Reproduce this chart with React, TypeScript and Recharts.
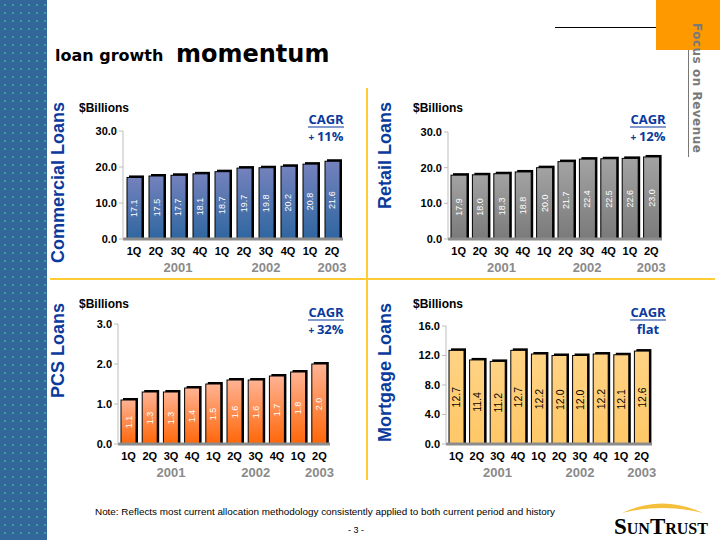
import React from 'react';
import { BarChart, Bar, XAxis, YAxis, LabelList } from 'recharts';

const quarters = ['1Q', '2Q', '3Q', '4Q', '1Q', '2Q', '3Q', '4Q', '1Q', '2Q'];
const yearLabels = ['', '', '2001', '', '', '', '2002', '', '', '2003'];

const commercial = [17.1, 17.5, 17.7, 18.1, 18.7, 19.7, 19.8, 20.2, 20.8, 21.6];
const retail = [17.9, 18.0, 18.3, 18.8, 20.0, 21.7, 22.4, 22.5, 22.6, 23.0];
const pcs = [1.1, 1.3, 1.3, 1.4, 1.5, 1.6, 1.6, 1.7, 1.8, 2.0];
const mortgage = [12.7, 11.4, 11.2, 12.7, 12.2, 12.0, 12.0, 12.2, 12.1, 12.6];

const commercialTicks = [0, 10, 20, 30];
const retailTicks = [0, 10, 20, 30];
const pcsTicks = [0, 1, 2, 3];
const mortgageTicks = [0, 4, 8, 12, 16];

const buildRows = (values: number[]) =>
  quarters.map((q, i) => ({ q, year: yearLabels[i], v: values[i] }));

const BLUE = '#0a3a9c';

const QuarterTick = (props: any) => {
  const { x, y, payload } = props;
  const idx = props.index ?? payload?.index ?? 0;
  const yr = yearLabels[idx];
  return (
    <g>
      <text x={x} y={y + 16} textAnchor="middle" fill="#000" fontSize={11} fontWeight={700} fontFamily="Arial, 'Liberation Sans'">
        {payload.value}
      </text>
      {yr ? (
        <text x={x} y={y + 33} textAnchor="middle" fill="#8a8a8a" fontSize={13} fontWeight={700} fontFamily="Arial, 'Liberation Sans'">
          {yr}
        </text>
      ) : null}
    </g>
  );
};

type ChartProps = {
  id: string;
  values: number[];
  ticks: number[];
  left: number;
  top: number;
  plotW: number;
  plotH: number;
  barSize: number;
  c1: string;
  c2: string;
  labelColor: string;
  labelSize: number;
};

function LoanChart(p: ChartProps) {
  const yw = 45, mt = 8, mr = 4, xh = 40;
  const rows = buildRows(p.values);
  const gid = `grad-${p.id}`;
  const Shape = (s: any) => {
    const { x, y, width, height } = s;
    if (!height || height <= 0) return null;
    return (
      <g>
        <defs>
          <linearGradient id={gid} x1="0" y1="0" x2="0" y2="1">
            <stop offset="0%" stopColor={p.c1} />
            <stop offset="100%" stopColor={p.c2} />
          </linearGradient>
        </defs>
        <rect x={x + 2} y={y - 2} width={width} height={height + 2} fill="#000" />
        <rect x={x} y={y} width={width} height={height} fill={`url(#${gid})`} stroke="#000" strokeWidth={1} />
      </g>
    );
  };
  const Label = (l: any) => {
    const vb = l.viewBox || {};
    const x = l.x ?? vb.x;
    const y = l.y ?? vb.y;
    const w = l.width ?? vb.width;
    const h = l.height ?? vb.height;
    const cx = x + w / 2;
    const cy = y + h / 2;
    return (
      <text
        x={cx}
        y={cy}
        transform={`rotate(-90 ${cx} ${cy})`}
        textAnchor="middle"
        dominantBaseline="central"
        fill={p.labelColor}
        fontSize={p.labelSize}
        fontFamily="Arial, 'Liberation Sans'"
      >
        {Number(l.value).toFixed(1)}
      </text>
    );
  };
  return (
    <div style={{ position: 'absolute', left: p.left - yw, top: p.top - mt }}>
      <BarChart
        width={yw + p.plotW + mr}
        height={mt + p.plotH + xh}
        data={rows}
        margin={{ top: mt, right: mr, bottom: 0, left: 0 }}
      >
        <XAxis
          dataKey="q"
          height={xh}
          interval={0}
          tickLine={false}
          tickSize={0}
          tickMargin={0}
          axisLine={{ stroke: '#8c8c8c', strokeWidth: 3 }}
          tick={<QuarterTick />}
        />
        <YAxis
          width={yw}
          domain={[p.ticks[0], p.ticks[p.ticks.length - 1]]}
          ticks={p.ticks}
          interval={0}
          allowDataOverflow
          tickFormatter={(v: number) => v.toFixed(1)}
          axisLine={{ stroke: '#bdbdbd' }}
          tickLine={{ stroke: '#bdbdbd' }}
          tickSize={4}
          tickMargin={2}
          tick={{ fill: '#000', fontSize: 11, fontWeight: 700, fontFamily: "Arial, 'Liberation Sans'" }}
        />
        <Bar dataKey="v" barSize={p.barSize} isAnimationActive={false} shape={Shape}>
          <LabelList dataKey="v" content={Label} />
        </Bar>
      </BarChart>
    </div>
  );
}

const Cagr = ({ x, y, top, bottom }: { x: number; y: number; top: string; bottom: React.ReactNode }) => (
  <g fontFamily="'Open Sans', 'DejaVu Sans', sans-serif" fontWeight={700} fill={BLUE}>
    <text x={x} y={y} textAnchor="middle" fontSize={13}>{top}</text>
    <line x1={x - 18} x2={x + 18} y1={y + 3} y2={y + 3} stroke={BLUE} strokeWidth={1.2} />
    <text x={x} y={y + 17} textAnchor="middle" fontSize={13}>{bottom}</text>
  </g>
);

const SectionTitle = ({ x, y, text }: { x: number; y: number; text: string }) => (
  <text
    x={x}
    y={y}
    transform={`rotate(-90 ${x} ${y})`}
    textAnchor="end"
    dominantBaseline="central"
    fill={BLUE}
    fontSize={18}
    fontWeight={700}
    fontFamily="Arial, 'Liberation Sans'"
  >
    {text}
  </text>
);

export default function App() {
  return (
    <div style={{ position: 'absolute', left: 0, top: 0, width: 720, height: 540, background: '#fff', overflow: 'hidden' }}>
      <div
        style={{
          position: 'absolute', left: 0, top: 0, width: 47, height: 540,
          backgroundColor: '#336699',
          backgroundImage: 'radial-gradient(#2fa596 0.8px, transparent 1px)',
          backgroundSize: '8px 8px',
          backgroundPosition: '1px 1px',
        }}
      />
      <div style={{ position: 'absolute', left: 656, top: 0, width: 64, height: 50, background: '#ff9900' }} />
      <svg width={720} height={540} style={{ position: 'absolute', left: 0, top: 0 }}>
        <line x1={555} x2={656} y1={27.5} y2={27.5} stroke="#000" strokeWidth={1} />
        <line x1={688.5} x2={688.5} y1={50} y2={157} stroke="#777" strokeWidth={1} />
        <text
          x={697}
          y={23}
          transform="rotate(90 697 23)"
          dominantBaseline="central"
          fill="#7a7a7a"
          fontSize={12}
          fontWeight={700}
          letterSpacing={0.5}
          fontFamily="'DejaVu Sans', sans-serif"
        >
          Focus on Revenue
        </text>
        <text x={55} y={61} fontSize={16} fontWeight={700} fontFamily="'DejaVu Sans', sans-serif" fill="#000">loan growth</text>
        <text x={176} y={62} fontSize={24} fontWeight={700} fontFamily="'DejaVu Sans', sans-serif" fill="#000">momentum</text>

        <rect x={50} y={278} width={665} height={2} fill="#ffcc33" />
        <rect x={366} y={88} width={2} height={392} fill="#ffcc33" />

        <SectionTitle x={58} y={102} text="Commercial Loans" />
        <SectionTitle x={385} y={102} text="Retail Loans" />
        <SectionTitle x={58} y={303} text="PCS Loans" />
        <SectionTitle x={385} y={303} text="Mortgage Loans" />

        <g fontSize={12} fontWeight={700} fontFamily="Arial, 'Liberation Sans'" fill="#000">
          <text x={79} y={112}>$Billions</text>
          <text x={413} y={112}>$Billions</text>
          <text x={79} y={308}>$Billions</text>
          <text x={413} y={308}>$Billions</text>
        </g>

        <Cagr x={326} y={124} top="CAGR" bottom={<><tspan fontSize={10}>+ </tspan>11%</>} />
        <Cagr x={648} y={124} top="CAGR" bottom={<><tspan fontSize={10}>+ </tspan>12%</>} />
        <Cagr x={326} y={317} top="CAGR" bottom={<><tspan fontSize={10}>+ </tspan>32%</>} />
        <Cagr x={648} y={317} top="CAGR" bottom="flat" />

        <text x={95} y={515} fontSize={9.9} fontFamily="Arial, 'Liberation Sans'" fill="#000">
          Note:  Reflects most current allocation methodology consistently applied to both current period and history
        </text>
        <text x={356} y={533} textAnchor="middle" fontSize={9} fontFamily="Arial, 'Liberation Sans'" fill="#000">- 3 -</text>

        <path d="M 622 513 Q 662 494 703 513 Q 662 503 622 513 Z" fill="#f4bf3a" />
        <text x={614} y={534} fontFamily="'Liberation Serif', 'Times New Roman', serif" fontWeight={700} fontSize={23} fill="#000">
          S<tspan fontSize={16}>UN</tspan>T<tspan fontSize={16}>RUST</tspan>
        </text>
      </svg>

      <LoanChart id="com" values={commercial} ticks={commercialTicks} left={123} top={131} plotW={220} plotH={108} barSize={15} c1="#7482bd" c2="#2f66a0" labelColor="#fff" labelSize={9} />
      <LoanChart id="ret" values={retail} ticks={retailTicks} left={448} top={132} plotW={214} plotH={107} barSize={16} c1="#a3a3a3" c2="#7a7a7a" labelColor="#fff" labelSize={9} />
      <LoanChart id="pcs" values={pcs} ticks={pcsTicks} left={118} top={324} plotW={212} plotH={120} barSize={15} c1="#ffb394" c2="#ff6608" labelColor="#fff" labelSize={9} />
      <LoanChart id="mtg" values={mortgage} ticks={mortgageTicks} left={446} top={326} plotW={206} plotH={118} barSize={15} c1="#ffd385" c2="#ffc766" labelColor="#000" labelSize={10.5} />
    </div>
  );
}
